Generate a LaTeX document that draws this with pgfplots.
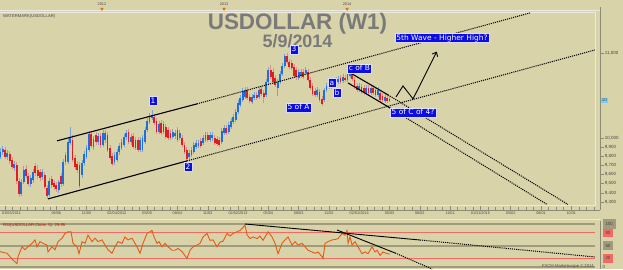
\documentclass[border=0pt]{standalone}
\usepackage{pgfplots}
\pgfplotsset{compat=1.18}
\usepackage{pgfplotstable}
\usepackage{fontspec}
\setmainfont{Liberation Sans}
\newfontfamily\lblfont{DejaVu Sans}
\usetikzlibrary{arrows.meta}

\definecolor{bg}{RGB}{217,211,170}
\definecolor{upbody}{RGB}{30,110,225}
\definecolor{upwick}{RGB}{120,165,215}
\definecolor{dnbody}{RGB}{228,28,32}
\definecolor{dnwick}{RGB}{228,140,135}
\definecolor{lblue}{RGB}{12,12,228}
\definecolor{rsiline}{RGB}{232,88,20}
\definecolor{rsired}{RGB}{245,105,100}
\definecolor{rsigray}{RGB}{160,155,125}
\definecolor{sepc}{RGB}{236,234,220}
\definecolor{axgray}{RGB}{140,138,120}
\definecolor{txtgray}{RGB}{70,70,70}
\definecolor{curblue}{RGB}{120,205,250}
\definecolor{titlegray}{RGB}{122,122,122}

\pgfplotstableread{
w O H L C
-2 9789 9889 9767 9844
-1 9844 9911 9811 9877
0 9866 9900 9767 9789
1 9789 9866 9756 9833
2 9822 9855 9712 9745
3 9756 9789 9658 9680
4 9669 9745 9636 9712
5 9702 9734 9496 9528
6 9528 9561 9359 9390
7 9390 9550 9369 9518
8 9518 9691 9496 9647
9 9658 9702 9561 9582
10 9582 9615 9475 9496
11 9496 9593 9464 9561
12 9539 9658 9507 9626
13 9691 9723 9582 9615
14 9647 9702 9550 9582
15 9626 9658 9528 9561
16 9572 9658 9539 9626
17 9593 9626 9443 9464
18 9454 9486 9338 9369
19 9380 9561 9359 9528
20 9550 9582 9454 9486
21 9507 9539 9432 9464
22 9486 9518 9411 9443
23 9432 9539 9401 9518
24 9582 9615 9464 9496
25 9496 9767 9475 9734
26 9811 9844 9702 9734
27 9734 9989 9712 9956
28 9944 10124 9922 10000
29 9978 10034 9734 9756
30 9778 9811 9647 9680
31 9712 9745 9615 9647
32 9702 9734 9454 9475
33 9593 9756 9561 9723
34 9723 9855 9691 9822
35 9789 9922 9767 9889
36 9866 10079 9844 10045
37 10045 10079 9889 9911
38 9900 10023 9866 9989
39 10034 10068 9922 9956
40 9956 10056 9922 10023
41 10023 10056 9889 9922
42 9922 10090 9900 10056
43 9978 10090 9944 10056
44 10034 10068 9844 9866
45 9889 9922 9756 9778
46 9800 9833 9691 9712
47 9734 9844 9702 9811
48 9756 9877 9734 9844
49 9844 9944 9811 9911
50 9889 9989 9866 9956
51 9922 10045 9900 10011
52 10011 10090 9978 10056
53 10068 10101 9933 9956
54 9956 10045 9922 10011
55 10023 10056 9877 9900
56 9978 10011 9866 9889
57 9978 10011 9844 9866
58 9866 10011 9844 9978
59 9866 10034 9844 10000
60 9956 10124 9933 10090
61 10090 10227 10068 10193
62 10181 10285 10158 10250
63 10227 10320 10204 10262
64 10239 10274 10147 10170
65 10193 10227 10045 10068
66 10068 10193 10045 10158
67 10170 10204 10034 10056
68 10158 10193 10045 10068
69 10124 10158 9989 10011
70 10090 10124 9978 10000
71 10056 10090 9978 10000
72 10011 10101 9989 10068
73 10023 10090 9989 10056
74 10090 10124 9956 9978
75 10000 10090 9978 10056
76 10000 10034 9900 9922
77 9922 9956 9822 9844
78 9866 9900 9734 9767
79 9789 9866 9756 9833
80 9811 9900 9789 9866
81 9844 9956 9822 9922
82 9900 9978 9877 9944
83 9911 9978 9889 9944
84 9967 10000 9889 9911
85 9944 10034 9922 10000
86 9978 10068 9956 10034
87 10034 10068 9956 9978
88 9978 10068 9956 10034
89 10000 10068 9967 10034
90 10000 10034 9922 9944
91 9989 10023 9911 9933
92 9978 10011 9900 9922
93 9956 10113 9933 10079
94 10056 10147 10034 10113
95 10113 10147 10034 10056
96 10068 10181 10045 10147
97 10124 10227 10101 10193
98 10181 10274 10158 10239
99 10204 10332 10181 10297
100 10297 10436 10274 10401
101 10378 10495 10355 10460
102 10436 10578 10413 10542
103 10471 10590 10448 10554
104 10554 10590 10436 10460
105 10471 10507 10401 10424
106 10413 10507 10390 10471
107 10460 10530 10436 10495
108 10495 10530 10436 10460
109 10471 10590 10448 10554
110 10566 10602 10483 10507
111 10519 10554 10401 10471
112 10495 10685 10471 10649
113 10649 10831 10625 10794
114 10794 10855 10685 10710
115 10770 10818 10625 10649
116 10697 10734 10590 10614
117 10578 10685 10483 10649
118 10649 10782 10625 10746
119 10746 10879 10722 10843
120 10843 10990 10818 10965
121 10965 11002 10867 10892
122 10892 10928 10806 10831
123 10879 10916 10794 10818
124 10831 10867 10697 10722
125 10794 10831 10673 10710
126 10697 10806 10673 10770
127 10722 10806 10697 10770
128 10770 10806 10685 10710
129 10758 10831 10734 10794
130 10770 10806 10649 10673
131 10673 10710 10554 10578
132 10602 10637 10483 10507
133 10542 10578 10471 10495
134 10495 10590 10471 10554
135 10530 10566 10413 10436
136 10448 10483 10366 10390
137 10436 10578 10413 10554
138 10554 10637 10530 10602
139 10590 10673 10566 10637
140 10649 10685 10566 10590
141 10590 10661 10554 10625
142 10614 10710 10590 10673
143 10649 10722 10625 10685
144 10697 10734 10625 10649
145 10661 10746 10637 10710
146 10697 10734 10649 10673
147 10673 10782 10649 10746
148 10722 10782 10697 10758
149 10746 10770 10661 10685
150 10673 10710 10566 10590
151 10602 10637 10530 10554
152 10554 10637 10530 10602
153 10590 10625 10507 10530
154 10578 10614 10495 10519
155 10519 10614 10495 10578
156 10578 10614 10495 10519
157 10519 10614 10495 10578
158 10578 10614 10495 10519
159 10554 10590 10471 10495
160 10495 10590 10471 10554
161 10519 10554 10413 10436
162 10483 10519 10413 10436
163 10424 10507 10401 10471
164 10460 10495 10401 10424
165 10448 10483 10413 10432
}\candles

\pgfplotstableread{
w r
-2.15 36
-0.86 34
0.86 32
2.15 24
3.43 16
5.15 8
5.58 24
7.3 47
8.58 40
9.87 47
11.59 55
12.88 63
13.73 47
15.02 59
16.31 55
18.03 51
18.45 35
20.17 47
21.46 40
22.75 59
24.46 67
25.75 78
27.04 82
28.33 82
29.18 55
30.9 47
31.76 31
33.05 59
34.33 55
35.62 74
37.34 59
38.63 67
39.91 59
41.63 63
42.92 51
44.21 40
45.92 32
47.21 47
48.5 59
50.21 55
51.5 70
52.79 63
54.51 67
56.65 47
57.94 32
59.23 55
60.94 78
63.09 85
63.95 70
65.24 55
66.09 59
67.38 47
68.67 55
69.96 47
71.67 39
72.96 39
74.25 43
75.97 36
78.11 20
79.4 39
80.69 47
82.4 51
83.69 55
84.98 70
86.7 78
87.98 62
89.27 63
90.99 47
92.27 58
93.56 60
95.28 78
96.57 72
97.85 78
99.57 82
100.86 85
103 97
103.86 75
105.15 66
106.44 70
108.15 66
109.44 72
110.73 62
112.45 78
112.88 82
114.59 70
115.88 55
117.17 31
118.88 55
120.17 63
121.46 70
123.18 51
124.46 59
125.75 51
127.47 55
128.76 47
130.04 39
131.76 35
133.05 32
134.33 35
136.05 24
136.48 20
137.34 55
138.63 59
140.34 63
141.63 64
142.92 66
144.64 78
145.92 74
146.78 85
147.21 55
148.07 70
148.93 51
150.21 59
151.5 47
153.22 31
154.51 35
155.79 31
157.51 47
158.8 35
159.66 39
160.94 27
162.23 35
163.95 31
165.24 30
}\rsidata

\pgfplotsset{
  candle/.style 2 args={draw=none, mark=none, forget plot,
    error bars/.cd, y dir=both, y explicit, error mark=none,
    error bar style={draw=#1, line width=#2}},
  dotln/.style={black, line width=1bp, dash pattern=on 1.1bp off 1bp},
  solln/.style={black, line width=1.1bp},
}

\begin{document}
\begin{tikzpicture}[x=1bp,y=1bp]
\path[use as bounding box, fill=bg] (0,0) rectangle (623,-269);

% light frames / separators
\draw[sepc, line width=0.9bp] (0,-10.5) -- (600,-10.5);
\draw[sepc, line width=0.9bp] (0,-12.5) -- (595,-12.5) -- (595,-205) -- (0,-205);
\draw[sepc, line width=0.9bp] (0,-219) -- (600,-219);
\draw[axgray, line width=0.8bp] (600,-221) -- (600,-269);

% outer frame axis with ticks and labels
\begin{axis}[
  at={(0bp,-210bp)}, anchor=south west, scale only axis, width=600bp, height=203bp,
  xmin=-2.15, xmax=255.33, ymode=log, ymin=9223, ymax=11586,
  axis x line*=bottom, axis y line*=right,
  axis line style={draw=axgray, line width=0.8bp},
  xtick={22,35,48,61,74,87,100,113,126,139,152,165,178,191,204,217,230,243},
  xticklabels={08/06,11/05,02/04/2012,05/05,08/04,11/03,02/02/2013,05/04,08/03,11/02,02/01/2014,05/03,08/02,11/01,01/31/2015,05/02,08/01,10/31},
  extra x ticks={0}, extra x tick labels={03/05/2011},
  extra x tick style={xticklabel style={anchor=north west, xshift=-4bp}},
  minor xtick={3.25,6.5,9.75,13,16.25,19.5,25.25,28.5,31.75,38.25,41.5,44.75,51.25,54.5,57.75,64.25,67.5,70.75,77.25,80.5,83.75,90.25,93.5,96.75,103.25,106.5,109.75,116.25,119.5,122.75,129.25,132.5,135.75,142.25,145.5,148.75,155.25,158.5,161.75,168.25,171.5,174.75,181.25,184.5,187.75,194.25,197.5,200.75,207.25,210.5,213.75,220.25,223.5,226.75,233.25,236.5,239.75,246.25,249.5,252.75},
  xtick align=inside, ytick align=outside,
  major tick length=4bp, minor tick length=2.5bp,
  tick style={draw=axgray, line width=0.5bp},
  ytick={9300,9400,9500,9600,9700,9800,9900,10000,11000},
  yticklabels={{9,300},{9,400},{9,500},{9,600},{9,700},{9,800},{9,900},{10,000},{11,000}},
  yminorticks=false,
  extra y ticks={10432}, extra y tick labels={{10,432}},
  extra y tick style={major tick length=0bp, yticklabel style={fill=curblue, xshift=1bp}},
  xticklabel style={font=\fontsize{3.8}{4}\selectfont, text=txtgray, inner sep=1bp, yshift=-0.5bp},
  yticklabel style={font=\fontsize{4.5}{5}\selectfont, text=txtgray, inner sep=0.7bp},
]
\end{axis}

% top strip with years
\begin{axis}[at={(0bp,-11bp)}, anchor=south west, scale only axis, width=595bp, height=11bp,
  xmin=-2.15, xmax=253.2, ymin=0, ymax=1, hide axis, clip=false]
\addplot[only marks, mark=triangle*, mark size=1.6bp,
  mark options={rotate=180, fill=orange, draw=orange!80!black},
  nodes near coords, point meta=explicit symbolic,
  nodes near coords style={font=\fontsize{3.8}{4}\selectfont, text=txtgray, anchor=south, inner sep=0.5bp, yshift=2.2bp}]
  table[x=w, y=y, meta=lab]{
w y lab
41.6 0.2 2012
94 0.2 2013
146.8 0.2 2014
};
\end{axis}

% main price panel
\begin{axis}[
  at={(0bp,-205bp)}, anchor=south west, scale only axis, width=595bp, height=193bp,
  xmin=-2.15, xmax=253.2, ymode=log, ymin=9275, ymax=11521,
  hide axis, clip=true, restrict x to domain=-10:400,
]
\addplot[candle={upwick}{0.6bp}] table[x expr={\thisrow{w}+1000*(\thisrow{C}<\thisrow{O})}, y expr={\thisrow{H}/2+\thisrow{L}/2}, y error expr={\thisrow{H}/2-\thisrow{L}/2}] {\candles};
\addplot[candle={dnwick}{0.6bp}] table[x expr={\thisrow{w}+1000*(\thisrow{C}>=\thisrow{O})}, y expr={\thisrow{H}/2+\thisrow{L}/2}, y error expr={\thisrow{H}/2-\thisrow{L}/2}] {\candles};
\addplot[candle={upbody}{1.8bp}] table[x expr={\thisrow{w}+1000*(\thisrow{C}<\thisrow{O})}, y expr={\thisrow{O}/2+\thisrow{C}/2}, y error expr={abs(\thisrow{C}/2-\thisrow{O}/2)}] {\candles};
\addplot[candle={dnbody}{1.8bp}] table[x expr={\thisrow{w}+1000*(\thisrow{C}>=\thisrow{O})}, y expr={\thisrow{O}/2+\thisrow{C}/2}, y error expr={abs(\thisrow{C}/2-\thisrow{O}/2)}] {\candles};

% channel lines
\addplot[solln] coordinates {(22.3,9967)(82.4,10390)};
\addplot[dotln] coordinates {(82.4,10390)(225.3,11508)};
\addplot[solln] coordinates {(18.5,9338)(78.1,9745)};
\addplot[dotln] coordinates {(78.1,9745)(253.2,11039)};
% wave 4 channel
\addplot[solln] coordinates {(148.9,10746)(164.4,10495)};
\addplot[dotln] coordinates {(164.4,10495)(241.6,9280)};
\addplot[solln] coordinates {(147.2,10637)(165.2,10343)};
\addplot[dotln] coordinates {(165.2,10343)(232.6,9280)};
% projection
\addplot[black, line width=0.9bp, -{Straight Barb[length=3.5bp, width=6bp]}] coordinates {(167.8,10472)(170.8,10602)(175.1,10448)(185.3,11018)};
\end{axis}

% RSI panel
\begin{axis}[
  at={(0bp,-269bp)}, anchor=south west, scale only axis, width=595bp, height=49bp,
  xmin=-2.15, xmax=253.2, ymin=-4.65, ymax=109.3,
  hide x axis, axis y line*=right, axis line style={draw=none},
  ytick={0,20,50,80,100},
  yticklabels={0,\colorbox{rsired}{20},\colorbox{rsigray}{50},\colorbox{rsired}{80},\colorbox{rsigray}{100}},
  major tick length=0bp,
  yticklabel style={font=\fontsize{4.5}{5}\selectfont, text=txtgray, inner sep=0.3bp, xshift=7bp},
  clip=true,
]
\addplot[rsigray, line width=2bp] coordinates {(-2.15,100)(253.2,100)};
\addplot[rsired, line width=1.3bp] coordinates {(-2.15,80)(253.2,80)};
\addplot[rsigray, line width=2bp] coordinates {(-2.15,50)(253.2,50)};
\addplot[rsired, line width=1.3bp] coordinates {(-2.15,20)(253.2,20)};
\addplot[rsigray, line width=1.5bp] coordinates {(-2.15,0)(253.2,0)};
\addplot[rsiline, line width=0.9bp] table[x=w, y=r] {\rsidata};
\addplot[solln, line width=0.9bp] coordinates {(103,100)(178.1,62.8)};
\addplot[dotln] coordinates {(178.1,62.8)(253.2,23.3)};
\addplot[solln, line width=0.9bp] coordinates {(142.5,86)(167.4,32.6)};
\addplot[dotln] coordinates {(167.4,32.6)(183.3,-4.6)};
\end{axis}

% texts
\node[anchor=base, font=\bfseries\fontsize{22.5}{24}\selectfont, text=titlegray, inner sep=0] at (297.5,-29) {USDOLLAR (W1)};
\node[anchor=base, font=\bfseries\fontsize{18}{20}\selectfont, text=titlegray, inner sep=0] at (297.5,-47) {5/9/2014};
\node[anchor=base west, font=\fontsize{4.2}{5}\selectfont, text=txtgray, inner sep=0] at (3,-17.5) {WATERMARK(USDOLLAR)};
\node[anchor=base west, font=\fontsize{4.2}{5}\selectfont, text=red!80!black, inner sep=0] at (3,-226) {RSI(USDOLLAR.Close, 5): 29.95};
\node[anchor=base east, font=\fontsize{4.2}{5}\selectfont, text=txtgray, inner sep=0] at (594,-267.5) {FXCM Marketscope \textcopyright\ 2014};

\tikzset{lbl/.style={fill=lblue, draw=white!85!lblue, line width=0.4bp, text=white, font=\lblfont\fontsize{7.5}{8}\selectfont, inner xsep=1.5bp, inner ysep=1bp, text height=5.6bp, text depth=1.4bp}}
\node[lbl] at (153,-101) {1};
\node[lbl] at (188,-167) {2};
\node[lbl] at (294,-49.5) {3};
\node[lbl] at (298.5,-107.5) {5 of A};
\node[lbl] at (332,-83) {a};
\node[lbl] at (337,-93) {b};
\node[lbl] at (359.5,-68.5) {c of B};
\node[lbl] at (413,-112.5) {5 of C of 4?};
\node[lbl] at (442,-38) {5th Wave - Higher High?};
\end{tikzpicture}
\end{document}
